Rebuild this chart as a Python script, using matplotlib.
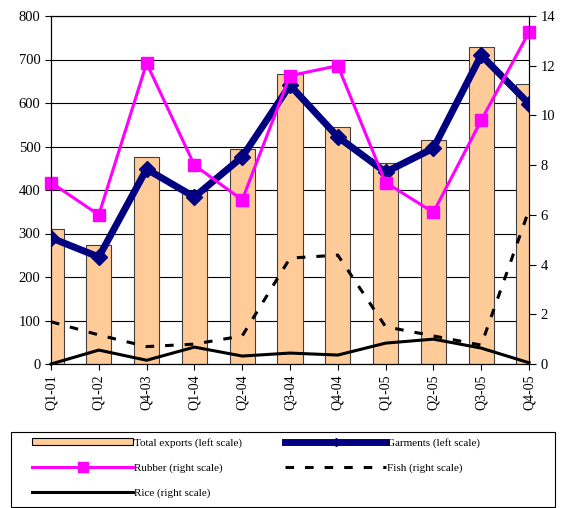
import numpy as np
import matplotlib
matplotlib.use('Agg')
import matplotlib.pyplot as plt
from matplotlib.lines import Line2D
from matplotlib.patches import Patch, Rectangle

plt.rcParams['font.family'] = ['Liberation Serif', 'DejaVu Serif']

quarters = ['Q1-01', 'Q1-02', 'Q4-03', 'Q1-04', 'Q2-04', 'Q3-04',
            'Q4-04', 'Q1-05', 'Q2-05', 'Q3-05', 'Q4-05']
total_exports = [310, 273, 476, 398, 494, 667, 545, 462, 515, 729, 644]
garments = [290, 246, 448, 384, 476, 641, 522, 441, 496, 710, 598]
rubber = [7.3, 6.0, 12.1, 8.0, 6.6, 11.6, 12.0, 7.3, 6.1, 9.8, 13.35]
fish = [1.7, 1.17, 0.7, 0.8, 1.13, 4.26, 4.38, 1.5, 1.13, 0.76, 6.2]
rice = [0.0, 0.56, 0.15, 0.68, 0.32, 0.44, 0.36, 0.84, 1.0, 0.64, 0.05]

x = np.arange(len(quarters))
fish_dash = (0, (2.8, 3.6))

fig = plt.figure(figsize=(5.63, 5.08), dpi=100)
ax = fig.add_axes([51/563, 1-364/508, 478/563, 348/508])
ax2 = ax.twinx()

# left scale: bars and garments
ax.bar(x, total_exports, width=0.53, color='#FFCC99', edgecolor='#404040',
       linewidth=0.8, zorder=2)
ax.plot(x, garments, color='#000080', lw=5, marker='D', ms=8, zorder=3)
ax.set_axisbelow(True)
ax.yaxis.grid(True, color='black', lw=0.8)
ax.set_ylim(0, 800)
ax.set_yticks(range(0, 801, 100))
ax.set_xlim(0, 10)
ax.set_xticks(x)
ax.set_xticklabels(quarters, rotation=90, fontsize=10)
ax.tick_params(axis='y', labelsize=10.5, direction='out', length=4)
ax.tick_params(axis='x', direction='out', length=4)

# right scale
ax2.plot(x, rubber, color='#FF00FF', lw=2.2, marker='s', ms=8, clip_on=False)
ax2.plot(x, fish, color='black', lw=2.2, ls=fish_dash, clip_on=False)
ax2.plot(x, rice, color='black', lw=2.2, clip_on=False)
ax2.set_ylim(0, 14)
ax2.set_yticks(range(0, 15, 2))
ax2.tick_params(axis='y', labelsize=10.5, direction='out', length=5)

for a in (ax, ax2):
    for s in a.spines.values():
        s.set_linewidth(0.8)

# legend box
fig.patches.append(Rectangle((11/563, 1/508), 544/563, 75/508,
                             transform=fig.transFigure, fill=False,
                             edgecolor='black', lw=0.8))
handles = [
    Patch(facecolor='#FFCC99', edgecolor='black', lw=0.8),
    Line2D([], [], color='#FF00FF', lw=2.2, marker='s', ms=7),
    Line2D([], [], color='black', lw=2.2),
    Line2D([], [], color='#000080', lw=5, marker='D', ms=4),
    Line2D([], [], color='black', lw=2.2, ls=fish_dash),
]
labels = ['Total exports (left scale)', 'Rubber (right scale)',
          'Rice (right scale)', 'Garments (left scale)', 'Fish (right scale)']
fig.legend(handles, labels, ncol=2, loc='upper left',
           bbox_to_anchor=(32/563, 1-438/508), frameon=False,
           fontsize=8, handlelength=9.1, handleheight=0.6, handletextpad=0.05,
           borderpad=0, borderaxespad=0, labelspacing=1.36, columnspacing=3.9)

fig.savefig('out.png', dpi=100)
